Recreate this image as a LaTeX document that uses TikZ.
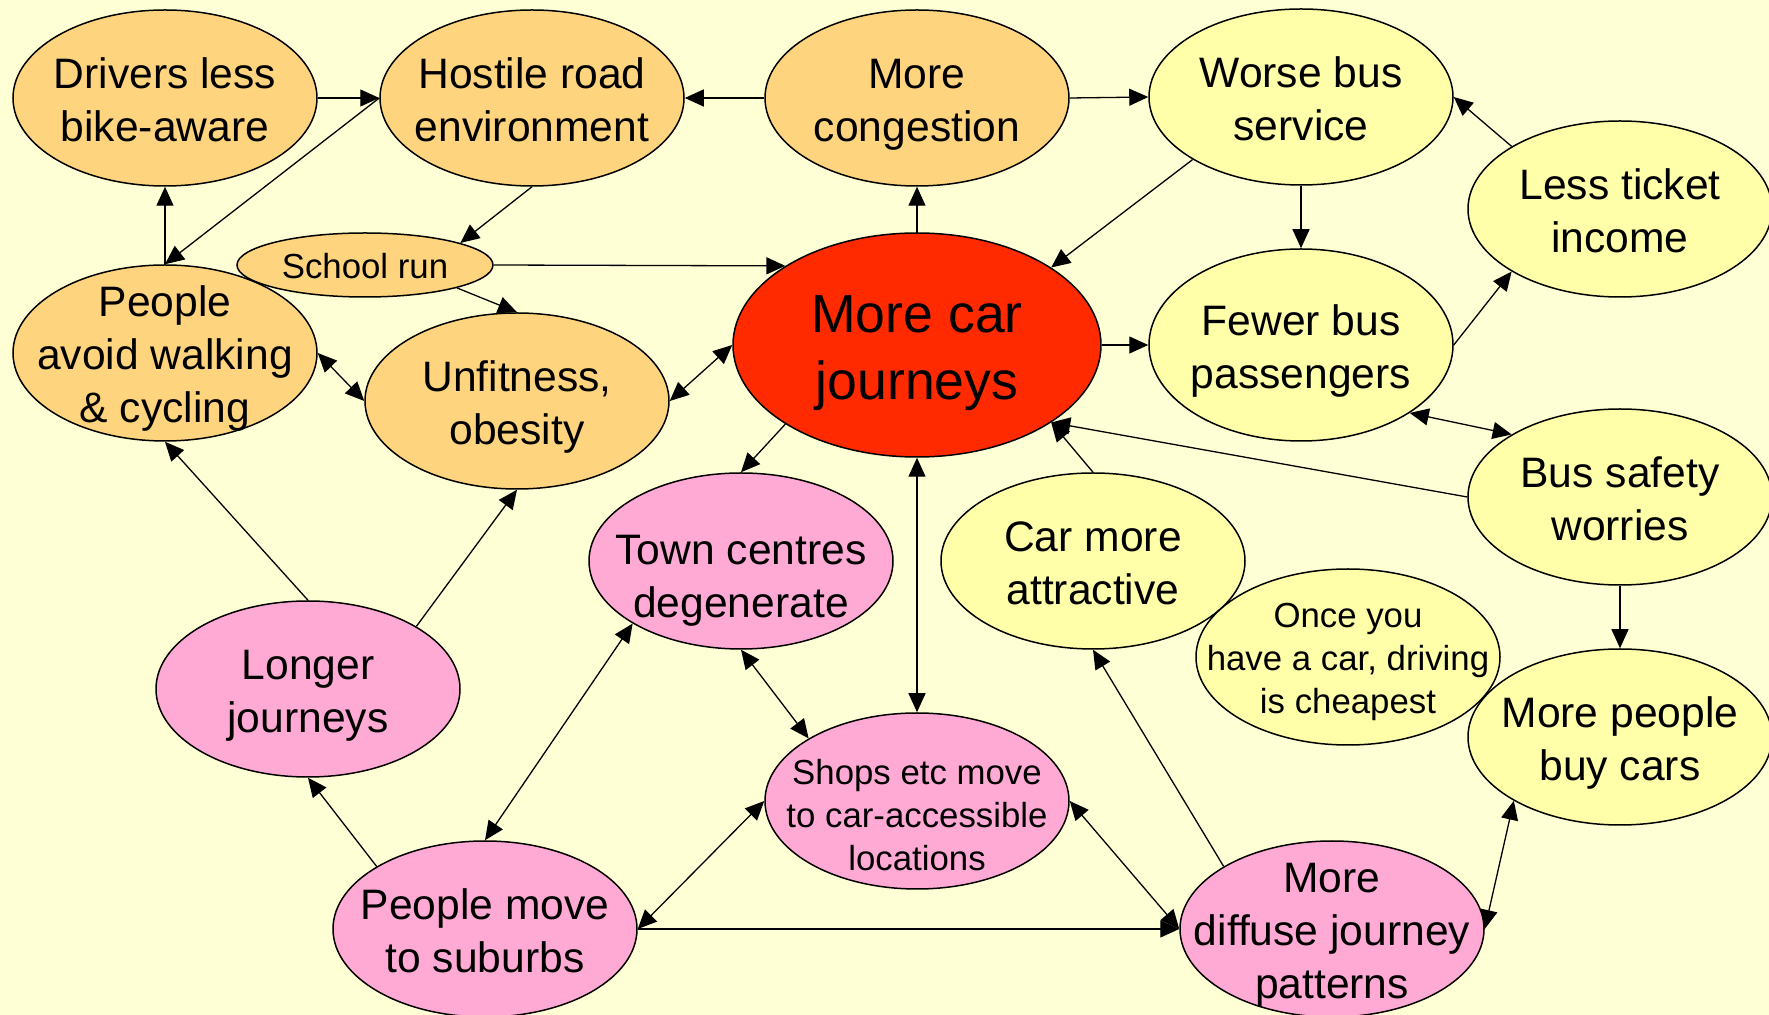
\documentclass[tikz,border=0pt]{standalone}
\usepackage{fontspec}
\setmainfont{Liberation Sans}
\usetikzlibrary{shapes.geometric,arrows.meta}
\definecolor{bgc}{RGB}{255,255,213}
\definecolor{orn}{RGB}{255,212,127}
\definecolor{ylw}{RGB}{255,255,170}
\definecolor{pnk}{RGB}{255,170,213}
\definecolor{redc}{RGB}{255,42,0}
\newcommand\fnorm{\fontsize{21.3}{26.5}\selectfont}
\newcommand\fbig{\fontsize{26.8}{33.5}\selectfont}
\newcommand\fsmall{\fontsize{17.4}{21.5}\selectfont}
\newcommand\st{\rule[-0.22em]{0pt}{1.22em}}
\newcommand\stx{\rule[-0.22em]{0pt}{\dimexpr 1.22em+13pt\relax}}
\begin{document}
\begin{tikzpicture}[x=0.5pt,y=-0.5pt,
  ell/.style={ellipse, draw, line width=0.75pt, inner xsep=-90pt, inner ysep=-60pt,
    align=center, font=\fnorm, minimum width=152pt, minimum height=88pt},
  tipx/.tip={Triangle[length=9.5pt,width=8.5pt]},
  arr/.style={line width=0.65pt, -tipx},
  biarr/.style={line width=0.65pt, tipx-tipx}]
\path[fill=bgc] (0,0) rectangle (1769,1015);
\useasboundingbox (0,0) rectangle (1769,1015);

\node[ell, fill=orn] (drv) at (165,98) {\st Drivers less\\\st bike-aware};
\node[ell, fill=orn] (host) at (532,98) {\st Hostile road\\\st environment};
\node[ell, fill=orn] (cong) at (917,98) {\st More\\\st congestion};
\node[ell, fill=ylw] (worse) at (1301,97) {\st Worse bus\\\st service};
\node[ell, fill=ylw] (less) at (1620,209) {\st Less ticket\\\st income};
\node[ell, fill=orn] (avoid) at (165,353) {\st People\\\st avoid walking\\\st \& cycling};
\node[ell, fill=orn, font=\fsmall, minimum width=128pt, minimum height=32pt] (school) at (365,265) {\st School run};
\node[ell, fill=redc, font=\fbig, minimum width=184pt, minimum height=112pt] (car) at (917,345) {\st More car\\\st journeys};
\node[ell, fill=ylw, minimum height=96pt] (fewer) at (1301,345) {\st Fewer bus\\\st passengers};
\node[ell, fill=orn] (unfit) at (517,401) {\st Unfitness,\\\st obesity};
\node[ell, fill=ylw] (safety) at (1620,497) {\st Bus safety\\\st worries};
\node[ell, fill=pnk] (town) at (741,561) {\stx Town centres\\\st degenerate};
\node[ell, fill=ylw] (attract) at (1093,561) {\st Car more\\\st attractive};
\node[ell, fill=ylw] (buy) at (1620,737) {\st More people\\\st buy cars};
\node[ell, fill=ylw, font=\fsmall] (once) at (1348,657) {\st Once you\\\st have a car, driving\\\st is cheapest};
\node[ell, fill=pnk] (longer) at (308,689) {\st Longer\\\st journeys};
\node[ell, fill=pnk, font=\fsmall] (shops) at (917,801) {\stx Shops etc move\\\st to car-accessible\\\st locations};
\node[ell, fill=pnk] (suburbs) at (485,929) {\st People move\\\st to suburbs};
\node[ell, fill=pnk] (diffuse) at (1332,929) {\st More\\\st diffuse journey\\\st patterns};

\draw[arr] (drv.east) -- (host.west);
\draw[arr] (host.west) -- (avoid.north);
\draw[arr] (avoid.north) -- (drv.south);
\draw[arr] (host.south) -- (school.13);
\draw[arr] (school.east) -- (car.149);
\draw[arr] (school.-14) -- (unfit.north);
\draw[biarr] (avoid.east) -- (unfit.west);
\draw[biarr] (car.west) -- (unfit.east);
\draw[arr] (cong.west) -- (host.east);
\draw[arr] (car.north) -- (cong.south);
\draw[arr] (cong.east) -- (worse.west);
\draw[arr] (worse.210) -- (car.30);
\draw[arr] (worse.south) -- (fewer.north);
\draw[arr] (car.east) -- (fewer.west);
\draw[arr] (less.150) -- (worse.east);
\draw[arr] (fewer.east) -- (less.210);
\draw[biarr] (fewer.-32) -- (safety.150);
\draw[arr] (safety.west) -- (car.-30);
\draw[arr] (attract.north) -- (car.-30);
\draw[arr] (safety.south) -- (buy.north);
\draw[biarr] (diffuse.east) -- (buy.211);
\draw[arr] (diffuse.150) -- (attract.south);
\draw[biarr] (shops.east) -- (diffuse.west);
\draw[arr] (suburbs.east) -- (diffuse.west);
\draw[biarr] (suburbs.east) -- (shops.west);
\draw[biarr] (suburbs.north) -- (town.210);
\draw[biarr] (town.south) -- (shops.150);
\draw[arr] (car.211) -- (town.north);
\draw[biarr] (car.south) -- (shops.north);
\draw[arr] (suburbs.150) -- (longer.south);
\draw[arr] (longer.north) -- (avoid.south);
\draw[arr] (longer.30) -- (unfit.south);
\end{tikzpicture}
\end{document}
